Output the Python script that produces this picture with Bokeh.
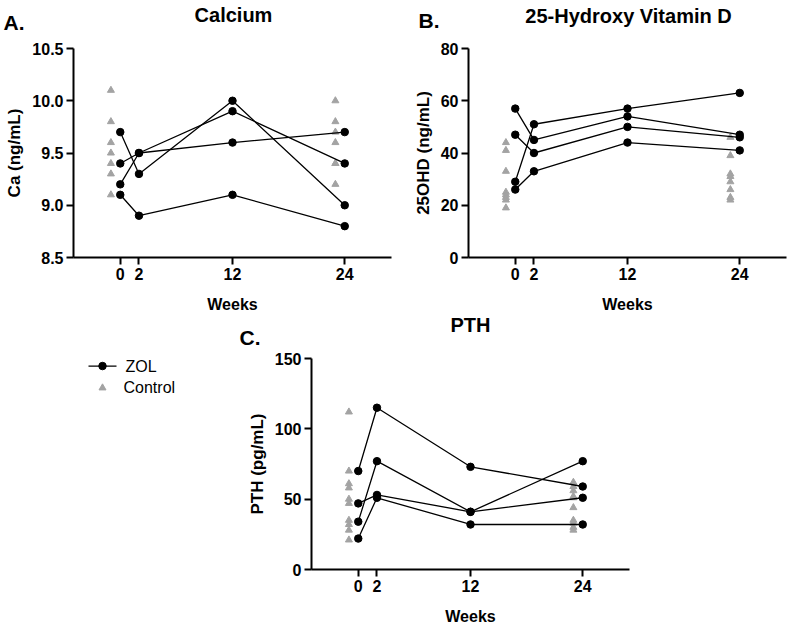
from bokeh.plotting import figure
from bokeh.models import Range1d, FixedTicker
from bokeh.layouts import column, row
from bokeh.embed import file_html
from bokeh.resources import INLINE
from bokeh.core.properties import value

# ---------------- data ----------------
weeks = [0, 2, 12, 24]
control_weeks = [0, 24]

# Calcium (ng/mL), ZOL subjects at weeks 0, 2, 12, 24
ca_zol = [
    [9.7, 9.3, 10.0, 9.0],
    [9.4, 9.5, 9.9, 9.4],
    [9.2, 9.5, 9.6, 9.7],
    [9.1, 8.9, 9.1, 8.8],
]
ca_ctrl_w0 = [10.1, 9.8, 9.6, 9.5, 9.4, 9.3, 9.1]
ca_ctrl_w24 = [10.0, 9.8, 9.7, 9.6, 9.4, 9.4, 9.2]

# 25-Hydroxy Vitamin D (ng/mL)
vd_zol = [
    [57, 45, 54, 47],
    [47, 40, 50, 46],
    [29, 51, 57, 63],
    [26, 33, 44, 41],
]
vd_ctrl_w0 = [44, 41, 33, 25, 24, 23, 22, 19]
vd_ctrl_w24 = [46, 39, 32, 31, 29, 26, 23, 22]

# PTH (pg/mL)
pth_zol = [
    [70, 115, 73, 59],
    [34, 77, 41, 77],
    [47, 53, 41, 51],
    [22, 51, 32, 32],
]
pth_ctrl_w0 = [112, 70, 61, 58, 50, 47, 35, 32, 28, 21]
pth_ctrl_w24 = [62, 59, 56, 52, 51, 44, 35, 33, 30, 28]

ca_ticks = [8.5, 9.0, 9.5, 10.0, 10.5]
vd_ticks = [0, 20, 40, 60, 80]
pth_ticks = [0, 50, 100, 150]

panel_titles = ["Calcium", "25-Hydroxy Vitamin D", "PTH"]
panel_letters = ["A.", "B.", "C."]
legend_labels = ["ZOL", "Control"]

# ---------------- style ----------------
FONT = "Liberation Sans"
X_START, X_END = -5, 29
CTRL_SHIFT = -1          # control triangles drawn just left of the tick
GRAY = "#a3a3a3"
DOT = 7.5
TRI = 7


def blank(width, height, xr, yr):
    f = figure(width=width, height=height, x_range=Range1d(*xr), y_range=Range1d(*yr),
               output_backend="svg", toolbar_location=None, min_border=0)
    f.axis.visible = False
    f.grid.visible = False
    f.outline_line_color = None
    return f


def put_text(f, x, y, txt, size, bold=True, align="left"):
    f.text(x=[x], y=[y], text=[txt], text_font=value(FONT),
           text_font_style="bold" if bold else "normal", text_font_size=size,
           text_align=align, text_baseline="middle", text_color="black")


def make_panel(width, height, bl, br, bt, bb, ylim, yticks, ylab, zol, c0, c24):
    p = figure(width=width, height=height,
               x_range=Range1d(X_START, X_END), y_range=Range1d(*ylim),
               output_backend="svg", toolbar_location=None,
               min_border_left=bl, min_border_right=br,
               min_border_top=bt, min_border_bottom=bb)
    p.outline_line_color = None
    p.grid.visible = False

    for ax in (p.xaxis[0], p.yaxis[0]):
        ax.axis_line_width = 2
        ax.axis_line_color = "black"
        ax.major_tick_line_width = 2
        ax.major_tick_line_color = "black"
        ax.major_tick_out = 7
        ax.major_tick_in = 0
        ax.minor_tick_line_color = None
        ax.major_label_text_font = FONT
        ax.major_label_text_font_style = "bold"
        ax.major_label_text_font_size = "16px"
        ax.major_label_text_color = "black"
        ax.axis_label_text_font = FONT
        ax.axis_label_text_font_style = "bold"
        ax.axis_label_text_color = "black"

    p.xaxis.ticker = FixedTicker(ticks=weeks)
    p.xaxis.major_label_standoff = 3
    p.xaxis.axis_label = "Weeks"
    p.xaxis.axis_label_text_font_size = "16px"
    p.xaxis.axis_label_standoff = 13

    p.yaxis.ticker = FixedTicker(ticks=yticks)
    p.yaxis.major_label_overrides = {t: (f"{t:.1f}" if isinstance(t, float) else str(t))
                                     for t in yticks}
    p.yaxis.major_label_standoff = 3
    p.yaxis.axis_label = ylab
    p.yaxis.axis_label_text_font_size = "17px"
    p.yaxis.axis_label_standoff = 5

    # control group (triangles) drawn first
    p.scatter([control_weeks[0] + CTRL_SHIFT] * len(c0), c0, marker="triangle",
              size=TRI, color=GRAY, line_color=GRAY)
    p.scatter([control_weeks[1] + CTRL_SHIFT] * len(c24), c24, marker="triangle",
              size=TRI, color=GRAY, line_color=GRAY)
    # ZOL subjects
    for vals in zol:
        p.line(weeks, vals, color="black", line_width=1.3)
        p.scatter(weeks, vals, marker="circle", size=DOT, color="black")
    return p


# ---- row 1: header (page y 0..36) + panels A and B (page y 36..315)
hAB = blank(793, 36, (0, 793), (36, 0))
put_text(hAB, 3, 22, panel_letters[0], "21px")
put_text(hAB, 233, 14, panel_titles[0], "20px", align="center")
put_text(hAB, 418, 20, panel_letters[1], "21px")
put_text(hAB, 628, 15, panel_titles[1], "20px", align="center")

pA = make_panel(400, 279, 73, 9, 12, 56, (8.5, 10.5), ca_ticks, "Ca (ng/mL)",
                ca_zol, ca_ctrl_w0, ca_ctrl_w24)
pB = make_panel(393, 279, 68, 7, 12, 56, (0, 80), vd_ticks, "25OHD (ng/mL)",
                vd_zol, vd_ctrl_w0, vd_ctrl_w24)

# ---- header for panel C (page y 315..350)
hC = blank(793, 35, (0, 793), (350, 315))
put_text(hC, 239, 337, panel_letters[2], "21px")
put_text(hC, 470, 324, panel_titles[2], "20px", align="center")

# ---- row 2: legend column (x 0..200) + panel C (page y 350..630)
pL = blank(200, 280, (0, 200), (630, 350))
pL.line(x=[88, 116], y=[360, 360], color="black", line_width=1.3)
pL.scatter(x=[102], y=[360], marker="circle", size=DOT, color="black")
pL.scatter(x=[102], y=[389], marker="triangle", size=TRI, color=GRAY, line_color=GRAY)
put_text(pL, 125, 360, legend_labels[0], "16px", bold=False)
put_text(pL, 123, 389, legend_labels[1], "16px", bold=False)

pC = make_panel(593, 280, 111, 164, 8, 61, (0, 150), pth_ticks, "PTH (pg/mL)",
                pth_zol, pth_ctrl_w0, pth_ctrl_w24)

layout = column(hAB, row(pA, pB), hC, row(pL, pC))
open("out.html", "w").write(file_html(layout, INLINE))
